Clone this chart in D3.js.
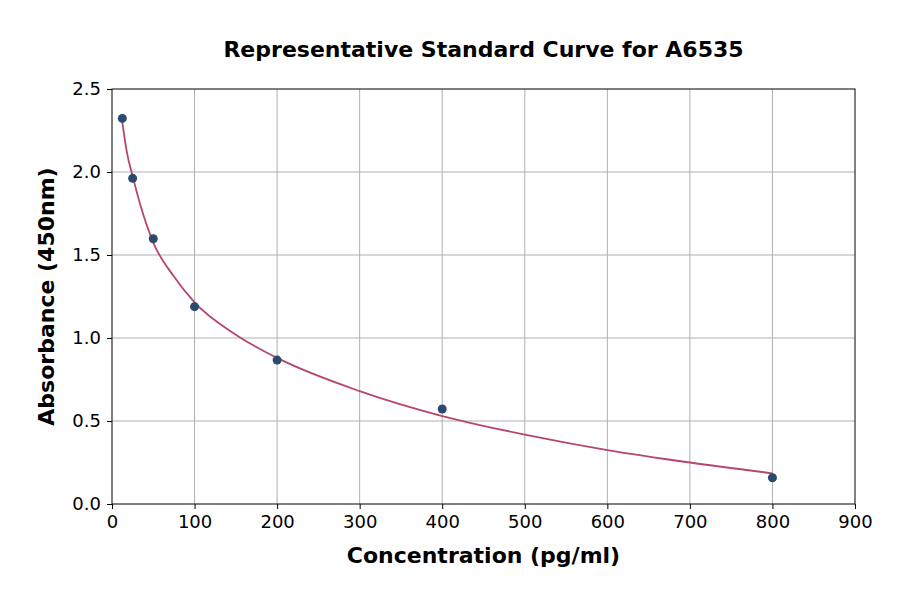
<!DOCTYPE html>
<html><head><meta charset="utf-8">
<script src="https://cdn.jsdelivr.net/npm/d3@7"></script>
<style>body{margin:0;background:#fff}svg{display:block}text{font-family:"DejaVu Sans",sans-serif}</style>
</head><body><div id="chart"></div>
<script>
const concentrations = [12.5, 25, 50, 100, 200, 400, 800];
const absorbance = [2.323, 1.962, 1.598, 1.189, 0.867, 0.572, 0.158];
const curveX = [12.5, 18, 25, 35, 50, 75, 100, 150, 200, 300, 400, 500, 600, 700, 800];
const curveY = [2.30, 2.12, 1.975, 1.79, 1.575, 1.37, 1.215, 1.02, 0.88, 0.68, 0.53, 0.418, 0.325, 0.25, 0.185];
const xTicks = [0, 100, 200, 300, 400, 500, 600, 700, 800, 900];
const yTicks = [0.0, 0.5, 1.0, 1.5, 2.0, 2.5];

const W = 900, H = 594;
const m = {left: 112, right: 45, top: 89, bottom: 90};
const svg = d3.select("#chart").append("svg").attr("width", W).attr("height", H);
const x = d3.scaleLinear().domain([0, 900]).range([m.left, W - m.right]);
const y = d3.scaleLinear().domain([0, 2.5]).range([H - m.bottom, m.top]);

// grid
svg.append("g").selectAll("line").data(xTicks.slice(1, -1)).join("line")
  .attr("x1", d => x(d)).attr("x2", d => x(d)).attr("y1", y(0)).attr("y2", y(2.5))
  .attr("stroke", "#b0b0b0").attr("stroke-width", 1);
svg.append("g").selectAll("line").data(yTicks.slice(1, -1)).join("line")
  .attr("y1", d => y(d)).attr("y2", d => y(d)).attr("x1", x(0)).attr("x2", x(900))
  .attr("stroke", "#b0b0b0").attr("stroke-width", 1);

// axes
const xa = svg.append("g").attr("transform", `translate(0,${y(0)})`)
  .call(d3.axisBottom(x).tickValues(xTicks).tickFormat(d3.format("d")).tickSize(5).tickPadding(6));
const ya = svg.append("g").attr("transform", `translate(${x(0)},0)`)
  .call(d3.axisLeft(y).tickValues(yTicks).tickFormat(d3.format(".1f")).tickSize(5).tickPadding(6));
[xa, ya].forEach(a => {
  a.selectAll("text").attr("font-size", "18px").attr("fill", "#000").attr("font-family", "DejaVu Sans");
  a.selectAll("line").attr("stroke", "#000");
  a.select(".domain").remove();
});
svg.append("rect").attr("x", x(0)).attr("y", y(2.5)).attr("width", x(900) - x(0)).attr("height", y(0) - y(2.5))
  .attr("fill", "none").attr("stroke", "#000").attr("stroke-width", 1);

// curve
const pts = curveX.map((d, i) => [d, curveY[i]]);
svg.append("path").datum(pts)
  .attr("d", d3.line().x(d => x(d[0])).y(d => y(d[1])).curve(d3.curveMonotoneX))
  .attr("fill", "none").attr("stroke", "#b5476b").attr("stroke-width", 1.8);

// points
svg.append("g").selectAll("circle").data(concentrations).join("circle")
  .attr("cx", d => x(d)).attr("cy", (d, i) => y(absorbance[i])).attr("r", 4.5)
  .attr("fill", "#2c4a6e");

// labels
svg.append("text").attr("x", (x(0) + x(900)) / 2).attr("y", 57).attr("text-anchor", "middle")
  .attr("font-weight", "bold").attr("font-size", "22px").text("Representative Standard Curve for A6535");
svg.append("text").attr("x", (x(0) + x(900)) / 2).attr("y", 563).attr("text-anchor", "middle")
  .attr("font-weight", "bold").attr("font-size", "22px").text("Concentration (pg/ml)");
svg.append("text").attr("transform", `translate(54,${(y(0) + y(2.5)) / 2}) rotate(-90)`).attr("text-anchor", "middle")
  .attr("font-weight", "bold").attr("font-size", "22px").text("Absorbance (450nm)");
</script></body></html>
